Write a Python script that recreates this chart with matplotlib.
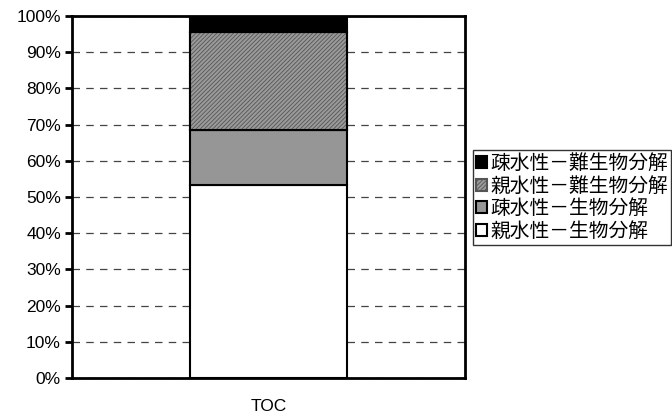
import matplotlib.pyplot as plt
import matplotlib as mpl

plt.rcParams['font.family'] = ['Noto Sans CJK JP', 'DejaVu Sans']
mpl.rcParams['hatch.linewidth'] = 0.6

categories = ['TOC']
series_names = ['親水性－生物分解', '疎水性－生物分解', '親水性－難生物分解', '疎水性－難生物分解']
series_values = [[53.3], [15.2], [27.1], [4.4]]
series_colors = ['white', '#969696', '#9a9a9a', 'black']
series_hatch = [None, None, '////////', None]
y_ticks = [0, 10, 20, 30, 40, 50, 60, 70, 80, 90, 100]

fig = plt.figure(figsize=(6.72, 4.18), dpi=100)
ax = fig.add_axes([72 / 672, 40 / 418, 393 / 672, 362 / 418])

# Stacked bar
bottom = [0] * len(categories)
handles = []
for name, vals, col, hat in zip(series_names, series_values, series_colors, series_hatch):
    b = ax.bar(categories, vals, width=0.4, bottom=bottom, color=col,
               edgecolor='black', linewidth=1.5, hatch=hat, label=name, zorder=3)
    if hat:
        b[0].set_edgecolor('#555555')
        ax.bar(categories, vals, width=0.4, bottom=bottom, color='none',
               edgecolor='black', linewidth=1.5, zorder=4)
    handles.append(b)
    bottom = [bt + v for bt, v in zip(bottom, vals)]

ax.set_xlim(-0.5, 0.5)
ax.set_ylim(0, 100)
ax.set_yticks(y_ticks)
ax.set_yticklabels([f'{t}%' for t in y_ticks], family=['Liberation Sans'], fontsize=12.5)
ax.tick_params(axis='y', direction='out', length=5, width=2, pad=3)
ax.tick_params(axis='x', length=0, pad=15, labelsize=12.5)
for lab in ax.get_xticklabels():
    lab.set_family(['Liberation Sans'])

ax.yaxis.grid(True, linestyle=(0, (6, 5)), color='#444444', linewidth=0.9, zorder=0)
for s in ax.spines.values():
    s.set_linewidth(2)
    s.set_zorder(5)

leg = ax.legend(handles[::-1], series_names[::-1], loc='upper left',
                bbox_to_anchor=((473 - 72) / 393, (378 - 150) / 362), frameon=True,
                fancybox=False, edgecolor='black', fontsize=14.2, handlelength=0.55,
                handleheight=0.55, handletextpad=0.2, borderpad=0.15,
                labelspacing=0.08, borderaxespad=0)
leg.get_frame().set_linewidth(1)

fig.savefig('out.png', dpi=100)
